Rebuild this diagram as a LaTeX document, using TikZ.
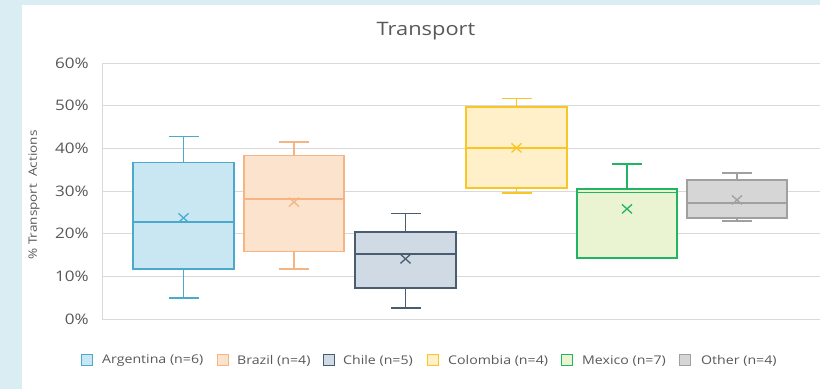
\documentclass[tikz,border=0pt]{standalone}
\usepackage{fontspec}
\setmainfont{Open Sans}[FakeStretch=1.18]
\definecolor{bgblue}{HTML}{DAEDF2}
\definecolor{txt}{HTML}{595959}
\definecolor{grid}{HTML}{D9D9D9}
\definecolor{argD}{HTML}{4BAACB}
\definecolor{argL}{HTML}{C9E7F3}
\definecolor{braD}{HTML}{F5B482}
\definecolor{braL}{HTML}{FBE3CE}
\definecolor{chiD}{HTML}{4A5D70}
\definecolor{chiL}{HTML}{CFDAE4}
\definecolor{colD}{HTML}{F9C623}
\definecolor{colL}{HTML}{FFF0C9}
\definecolor{mexD}{HTML}{22B561}
\definecolor{mexL}{HTML}{EAF3D2}
\definecolor{othD}{HTML}{A0A0A0}
\definecolor{othL}{HTML}{D6D6D6}
\tikzset{
  ticklbl/.style={text=txt, font=\fontsize{14.5}{16}\selectfont, anchor=east, inner sep=0pt},
  leglbl/.style={text=txt, font=\fontsize{12}{14}\selectfont, anchor=west, inner sep=0pt},
  legsq/.style={minimum size=11pt, inner sep=0pt, line width=1pt},
  gridline/.style={grid, line width=0.9pt},
  bxline/.style={line width=1.3pt},
}
% #1 xl, #2 xr, #3 min, #4 q1, #5 med, #6 q3, #7 max, #8 mean, #9 colour prefix
\newcommand\boxplotdraw[9]{%
  \pgfmathsetmacro\cx{(#1+#2)/2}%
  \draw[bxline, draw=#9D, fill=#9L] (#1,#4) rectangle (#2,#6);
  \draw[bxline, draw=#9D] (#1,#5) -- (#2,#5);
  \draw[bxline, draw=#9D] (\cx,#6) -- (\cx,#7);
  \draw[bxline, draw=#9D] (\cx,#4) -- (\cx,#3);
  \draw[bxline, draw=#9D] (\cx-15,#7) -- (\cx+15,#7);
  \draw[bxline, draw=#9D] (\cx-15,#3) -- (\cx+15,#3);
  \draw[bxline, draw=#9D] (\cx,#8) ++(-5pt,-4.5pt) -- ++(10pt,9pt);
  \draw[bxline, draw=#9D] (\cx,#8) ++(-5pt,4.5pt) -- ++(10pt,-9pt);
}
\begin{document}
\begin{tikzpicture}[x=1pt,y=1pt]
\useasboundingbox (0,0) rectangle (820,389);
\fill[bgblue] (0,0) rectangle (820,389);
\fill[white] (22,0) rectangle (820,384);
\node[text=txt, font=\fontsize{18.5}{21}\selectfont, inner sep=0pt] (title) at (426,358) {Transport};
\node[text=txt, font=\fontsize{11.5}{13}\selectfont, rotate=90, inner sep=0pt] (ylab) at (34,194) {\% Transport\ \ Actions};
\begin{scope}[yshift=70pt, y=4.2667pt]
  \foreach \v in {0,10,...,60} {
    \draw[gridline] (102,\v) -- (820,\v);
    \node[ticklbl] (t\v) at (89,\v) {\v\%};
  }
  \draw[gridline] (102,0) -- (102,60);
  \boxplotdraw{133}{234}{4.9}{11.7}{22.7}{36.6}{42.7}{23.7}{arg}
  \boxplotdraw{244}{344}{11.7}{15.9}{28.1}{38.4}{41.5}{27.4}{bra}
  \boxplotdraw{355}{456}{2.6}{7.3}{15.2}{20.4}{24.8}{14.1}{chi}
  \boxplotdraw{466}{567}{29.5}{30.7}{40.1}{49.7}{51.6}{40.1}{col}
  \boxplotdraw{577}{677}{14.3}{14.3}{29.6}{30.5}{36.3}{25.8}{mex}
  \boxplotdraw{687}{787}{23.0}{23.7}{27.2}{32.6}{34.2}{27.9}{oth}
\end{scope}
\node[legsq, draw=argD, fill=argL] (s1) at (87,29) {};
\node[leglbl] (l1) at (102,28) {Argentina (n=6)};
\node[legsq, draw=braD, fill=braL] (s2) at (223,29) {};
\node[leglbl] (l2) at (237,28) {Brazil (n=4)};
\node[legsq, draw=chiD, fill=chiL] (s3) at (329,29) {};
\node[leglbl] (l3) at (343,28) {Chile (n=5)};
\node[legsq, draw=colD, fill=colL] (s4) at (433,29) {};
\node[leglbl] (l4) at (448,28) {Colombia (n=4)};
\node[legsq, draw=mexD, fill=mexL] (s5) at (567,29) {};
\node[leglbl] (l5) at (582,28) {Mexico (n=7)};
\node[legsq, draw=othD, fill=othL] (s6) at (685,29) {};
\node[leglbl] (l6) at (701,28) {Other (n=4)};
\end{tikzpicture}
\end{document}
